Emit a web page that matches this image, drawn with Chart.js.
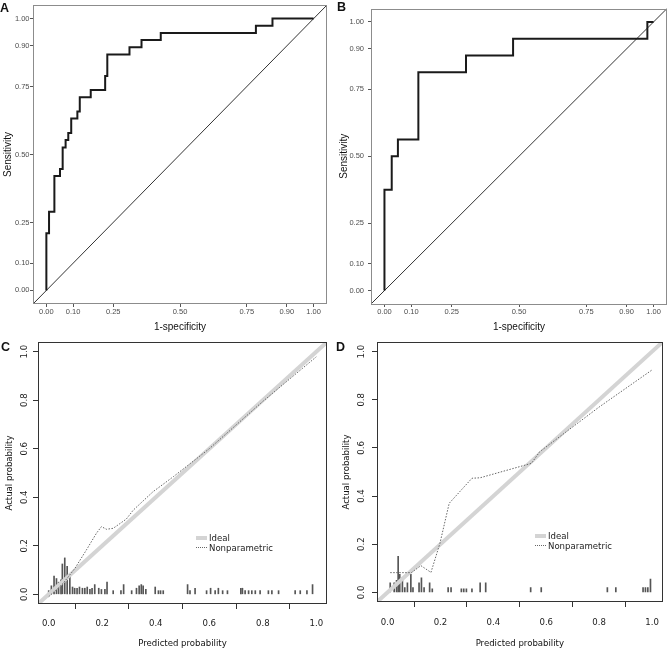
<!DOCTYPE html>
<html>
<head>
<meta charset="utf-8">
<script src="https://cdn.jsdelivr.net/npm/chart.js@4.4.1/dist/chart.umd.min.js"></script>
<style>
  html, body { margin: 0; padding: 0; background: #fff; }
  body { width: 669px; height: 650px; position: relative; overflow: hidden; font-family: "Liberation Sans", Arial, sans-serif; }
  .panel { position: absolute; }
  .tag { position: absolute; font-weight: bold; font-size: 12.5px; line-height: 1; color: #111; }
  .legend { position: absolute; font-family: "DejaVu Sans Condensed", "DejaVu Sans", sans-serif; font-size: 9.5px; color: #222; }
  .legend div { display: flex; align-items: center; height: 9.5px; line-height: 9.5px; }
  .sw { display: inline-block; width: 11px; margin-right: 2px; }
  .sw.ideal { border-top: 4px solid #d4d4d4; }
  .sw.np { border-top: 1px dotted #666; }
</style>
</head>
<body>
<div class="panel" style="left:0;top:0;width:334px;height:335px"><canvas id="chartA"></canvas></div>
<div class="panel" style="left:334px;top:0;width:335px;height:335px"><canvas id="chartB"></canvas></div>
<div class="panel" style="left:0;top:330px;width:334px;height:320px"><canvas id="chartC"></canvas></div>
<div class="panel" style="left:334px;top:330px;width:335px;height:320px"><canvas id="chartD"></canvas></div>

<div class="tag" style="left:0;top:2px">A</div>
<div class="tag" style="left:337px;top:1px">B</div>
<div class="tag" style="left:1px;top:341px">C</div>
<div class="tag" style="left:336px;top:341px">D</div>

<div class="legend" style="left:196px;top:533px">
  <div><span class="sw ideal"></span>Ideal</div>
  <div><span class="sw np"></span>Nonparametric</div>
</div>
<div class="legend" style="left:535px;top:531px">
  <div><span class="sw ideal"></span>Ideal</div>
  <div><span class="sw np"></span>Nonparametric</div>
</div>

<script>
// ROC curves (1-specificity, sensitivity)
const rocTicks = [0, 0.10, 0.25, 0.50, 0.75, 0.90, 1.00];

const rocA_fpr = [0, 0, 0.01, 0.01, 0.03, 0.03, 0.051, 0.051, 0.061, 0.061, 0.072, 0.072, 0.082, 0.082,
  0.093, 0.093, 0.116, 0.116, 0.125, 0.125, 0.166, 0.166, 0.22, 0.22, 0.228, 0.228, 0.311, 0.311,
  0.356, 0.356, 0.428, 0.428, 0.784, 0.784, 0.846, 0.846, 1];
const rocA_tpr = [0, 0.21, 0.21, 0.289, 0.289, 0.421, 0.421, 0.447, 0.447, 0.526, 0.526, 0.553, 0.553, 0.579,
  0.579, 0.632, 0.632, 0.658, 0.658, 0.711, 0.711, 0.737, 0.737, 0.789, 0.789, 0.868, 0.868, 0.895,
  0.895, 0.921, 0.921, 0.947, 0.947, 0.974, 0.974, 1, 1];

const rocB_fpr = [0, 0, 0.027, 0.027, 0.05, 0.05, 0.126, 0.126, 0.303, 0.303, 0.478, 0.478, 0.977, 0.977, 1];
const rocB_tpr = [0, 0.375, 0.375, 0.5, 0.5, 0.5625, 0.5625, 0.8125, 0.8125, 0.875, 0.875, 0.9375, 0.9375, 1, 1];

const diagLine = [-0.05, 1.05];

// Calibration curves
const calTicks = [0, 0.2, 0.4, 0.6, 0.8, 1.0];
const idealLine = [-0.04, 1.04];

const npC_x = [0, 0.054, 0.098, 0.141, 0.178, 0.197, 0.216, 0.241, 0.29, 0.316, 0.39, 0.466, 0.6, 0.8, 1.0];
const npC_y = [-0.01, 0.045, 0.107, 0.183, 0.251, 0.279, 0.268, 0.272, 0.31, 0.347, 0.423, 0.485, 0.6, 0.795, 0.979];

const npD_x = [0.01, 0.09, 0.126, 0.164, 0.198, 0.233, 0.319, 0.35, 0.544, 0.575, 0.8, 1.0];
const npD_y = [0.082, 0.082, 0.111, 0.083, 0.204, 0.37, 0.474, 0.476, 0.536, 0.584, 0.77, 0.924];

// distribution of predicted probabilities (spikes)
const spikeC_x = [0, 0.01, 0.02, 0.029, 0.037, 0.046, 0.051, 0.06, 0.069, 0.079, 0.089, 0.097, 0.106, 0.115,
  0.126, 0.135, 0.144, 0.154, 0.162, 0.172, 0.187, 0.197, 0.21, 0.218, 0.241, 0.27, 0.28, 0.31, 0.328,
  0.338, 0.346, 0.353, 0.363, 0.398, 0.41, 0.418, 0.428, 0.519, 0.528, 0.547, 0.59, 0.605, 0.622, 0.634,
  0.65, 0.668, 0.718, 0.724, 0.734, 0.747, 0.759, 0.772, 0.79, 0.821, 0.834, 0.859, 0.921, 0.94, 0.965, 0.986];
const spikeC_h = [0.015, 0.035, 0.075, 0.065, 0.05, 0.06, 0.125, 0.15, 0.115, 0.075, 0.03, 0.025, 0.025, 0.03,
  0.025, 0.025, 0.03, 0.02, 0.025, 0.04, 0.025, 0.02, 0.02, 0.05, 0.015, 0.015, 0.04, 0.015, 0.025,
  0.035, 0.04, 0.035, 0.02, 0.03, 0.015, 0.015, 0.015, 0.04, 0.015, 0.025, 0.015, 0.025, 0.015, 0.025,
  0.015, 0.015, 0.025, 0.025, 0.015, 0.015, 0.015, 0.015, 0.015, 0.015, 0.015, 0.015, 0.015, 0.015, 0.015, 0.04];

const spikeD_x = [0.01, 0.025, 0.034, 0.04, 0.046, 0.056, 0.065, 0.075, 0.088, 0.096, 0.119, 0.128, 0.138,
  0.159, 0.169, 0.229, 0.24, 0.279, 0.288, 0.298, 0.319, 0.35, 0.371, 0.541, 0.581, 0.831, 0.863,
  0.966, 0.975, 0.984, 0.994];
const spikeD_h = [0.04, 0.04, 0.05, 0.15, 0.075, 0.06, 0.02, 0.04, 0.075, 0.02, 0.04, 0.06, 0.02,
  0.04, 0.015, 0.02, 0.02, 0.015, 0.015, 0.015, 0.015, 0.04, 0.04, 0.02, 0.02, 0.02, 0.02,
  0.02, 0.02, 0.02, 0.055];

const SANS = "'Liberation Sans', Arial, sans-serif";
const RFONT = "'DejaVu Sans Condensed', 'DejaVu Sans', sans-serif";

const xy = (xs, ys) => xs.map((x, i) => ({ x, y: ys[i] }));

// box around the plotting region
const framePlugin = {
  id: 'frame',
  afterDraw(chart, args, opts) {
    const { ctx, chartArea: a } = chart;
    ctx.save();
    ctx.strokeStyle = opts.color;
    ctx.lineWidth = 1;
    ctx.strokeRect(Math.round(a.left) + 0.5, Math.round(a.top) + 0.5,
      Math.round(a.right - a.left) - 1, Math.round(a.bottom - a.top) - 1);
    ctx.restore();
  }
};

// R style y labels, rotated
const rotLabels = {
  id: 'rotLabels',
  afterDraw(chart, args, opts) {
    if (!opts.x) return;
    const { ctx } = chart;
    const s = chart.scales.y;
    ctx.save();
    ctx.font = '9.5px ' + RFONT;
    ctx.fillStyle = '#222';
    ctx.textAlign = 'center';
    ctx.textBaseline = 'middle';
    s.ticks.forEach(t => {
      ctx.save();
      ctx.translate(opts.x, s.getPixelForValue(t.value));
      ctx.rotate(-Math.PI / 2);
      ctx.fillText(t.value.toFixed(1), 0, 0);
      ctx.restore();
    });
    ctx.restore();
  }
};

function rocChart(id, fpr, tpr, pad, yWidth, yTitlePad, yTickPad) {
  const axisCommon = {
    type: 'linear', min: -0.05, max: 1.05, offset: false,
    afterBuildTicks: s => { s.ticks = rocTicks.map(v => ({ value: v })); },
    grid: { drawOnChartArea: false, tickLength: 3, color: '#555' },
    border: { display: false }
  };
  return new Chart(document.getElementById(id), {
    type: 'scatter',
    data: {
      datasets: [
        { data: xy(fpr, tpr), showLine: true, borderColor: '#1a1a1a', borderWidth: 2, pointRadius: 0, order: 0 },
        { data: xy(diagLine, diagLine), showLine: true, borderColor: '#333', borderWidth: 1, pointRadius: 0, order: 1 }
      ]
    },
    options: {
      responsive: true, maintainAspectRatio: false, animation: false,
      layout: { padding: pad },
      plugins: { legend: { display: false }, tooltip: { enabled: false }, frame: { color: '#8c8c8c' } },
      scales: {
        x: Object.assign({}, axisCommon, {
          ticks: { callback: v => v.toFixed(2), font: { size: 7.5, family: SANS }, color: '#4d4d4d', padding: 0.5, maxRotation: 0, autoSkip: false },
          title: { display: true, text: '1-specificity', font: { size: 10, family: SANS }, color: '#111', padding: { top: 0, bottom: 2 } },
          afterFit: s => { s.height = 31; }
        }),
        y: Object.assign({}, axisCommon, {
          ticks: { callback: v => v.toFixed(2), font: { size: 7.5, family: SANS }, color: '#4d4d4d', padding: yTickPad, autoSkip: false },
          title: { display: true, text: 'Sensitivity', font: { size: 10, family: SANS }, color: '#111', padding: { top: yTitlePad, bottom: 0 } },
          afterFit: s => { s.width = yWidth; }
        })
      }
    },
    plugins: [framePlugin]
  });
}

function calChart(id, npx, npy, spx, sph, pad, yWidth, xHeight, yTitlePad, xTickPad, labelX) {
  return new Chart(document.getElementById(id), {
    type: 'scatter',
    data: {
      datasets: [
        { type: 'bar', data: xy(spx, sph), backgroundColor: '#555', barThickness: 1, order: 2 },
        { data: xy(idealLine, idealLine), showLine: true, borderColor: '#d4d4d4', borderWidth: 4, pointRadius: 0, order: 1 },
        { data: xy(npx, npy), showLine: true, borderColor: '#666', borderWidth: 1, borderDash: [1.5, 1.5], pointRadius: 0, order: 0 }
      ]
    },
    options: {
      responsive: true, maintainAspectRatio: false, animation: false,
      layout: { padding: pad },
      plugins: { legend: { display: false }, tooltip: { enabled: false }, frame: { color: '#333' }, rotLabels: { x: labelX } },
      scales: {
        x: {
          type: 'linear', min: -0.04, max: 1.04, offset: false,
          afterBuildTicks: s => { s.ticks = calTicks.map(v => ({ value: v })); },
          ticks: { callback: v => v.toFixed(1), font: { size: 9.5, family: RFONT }, color: '#222', padding: xTickPad, maxRotation: 0, autoSkip: false },
          grid: { drawOnChartArea: false, tickLength: 5, color: '#333' },
          border: { display: false },
          title: { display: true, text: 'Predicted probability', font: { size: 9.5, family: RFONT }, color: '#111', padding: { top: 0, bottom: 1 } },
          afterFit: s => { s.height = xHeight; }
        },
        y: {
          type: 'linear', min: -0.04, max: 1.04,
          afterBuildTicks: s => { s.ticks = calTicks.map(v => ({ value: v })); },
          ticks: { display: false },
          grid: { drawOnChartArea: false, tickLength: 5, color: '#333' },
          border: { display: false },
          title: { display: true, text: 'Actual probability', font: { size: 9.5, family: RFONT }, color: '#111', padding: { top: yTitlePad, bottom: 0 } },
          afterFit: s => { s.width = yWidth; }
        }
      }
    },
    plugins: [framePlugin, rotLabels]
  });
}

rocChart('chartA', rocA_fpr, rocA_tpr, { top: 1, right: 7, left: 0, bottom: 0 }, 33, 2, 0.5);
rocChart('chartB', rocB_fpr, rocB_tpr, { top: 1, right: 2, left: 0, bottom: 0 }, 37, 4, 4);
calChart('chartC', npC_x, npC_y, spikeC_x, spikeC_h, { top: 12, right: 7, left: 0, bottom: 0 }, 38, 46, 4, 9, 25);
calChart('chartD', npD_x, npD_y, spikeD_x, spikeD_h, { top: 12, right: 4, left: 0, bottom: 0 }, 43, 48, 7, 10, 28);
</script>
</body>
</html>
